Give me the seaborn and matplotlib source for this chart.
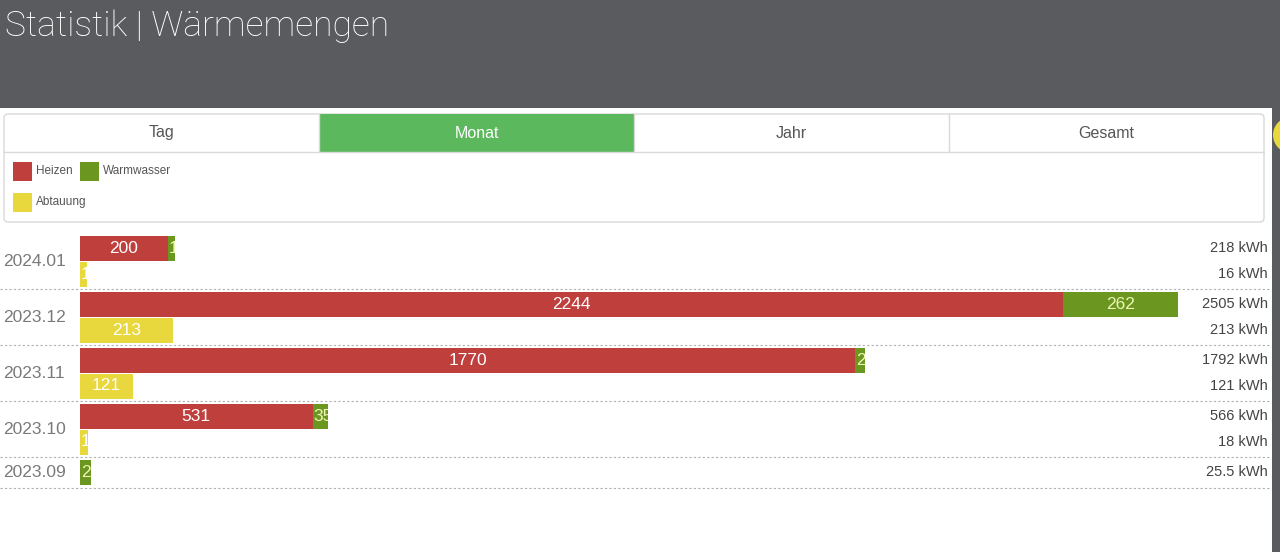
"""Wärmemengen monthly statistics, horizontal stacked bars."""
import matplotlib
matplotlib.use("Agg")
import matplotlib.pyplot as plt
import pandas as pd
import seaborn as sns
from matplotlib.patches import Circle, FancyBboxPatch, Rectangle
from matplotlib.transforms import Bbox, TransformedBbox

# data
months = ["2024.01", "2023.12", "2023.11", "2023.10", "2023.09"]
heizen = [200, 2244, 1770, 531, 0]
warmwasser = [18, 262, 22, 35, 25.5]
abtauung = [16, 213, 121, 18, None]
totals = [218, 2505, 1792, 566, 25.5]
series_names = ["Heizen", "Warmwasser", "Abtauung"]
tabs = ["Tag", "Monat", "Jahr", "Gesamt"]
active_tab = "Monat"
title = "Statistik | Wärmemengen"

RED = "#bf3f3d"
GREEN = "#6b961f"
YELLOW = "#e8d83e"
TAB_GREEN = "#5cb85c"
HEADER = "#5a5b5f"

W, H = 1280, 552
PX_PER_KWH = 0.438
BAR_H = 25
ROW_TOP = 236
SUB_PITCH = 25.5
ROW_GAP = 5.5

sns.set_theme(style="white")
plt.rcParams["font.family"] = ["Liberation Sans", "DejaVu Sans"]

fig = plt.figure(figsize=(W / 100, H / 100), dpi=100)
bg = fig.add_axes([0, 0, 1, 1])
bg.set_xlim(0, W)
bg.set_ylim(H, 0)
bg.axis("off")

# header + page chrome
bg.add_patch(Rectangle((0, 0), W, 108, fc=HEADER, ec="none"))
bg.add_patch(Rectangle((1272, 108), 8, H - 108, fc=HEADER, ec="none"))
bg.add_patch(Circle((1291, 135), 18, fc=YELLOW, ec="none"))
bg.text(5, 36, title, color="white", fontsize=25.5, va="baseline",
        family=["Roboto", "DejaVu Sans"], fontweight="light")

# tab box
bg.add_patch(FancyBboxPatch((4, 114), 1260, 108,
                            boxstyle="round,pad=0,rounding_size=4",
                            fc="none", ec="#d9d9d9", lw=1))
tab_w = 1260 / len(tabs)
for i, name in enumerate(tabs):
    x0 = 4 + i * tab_w
    active = name == active_tab
    if active:
        bg.add_patch(Rectangle((x0, 114), tab_w, 38, fc=TAB_GREEN, ec="none"))
    if i > 0:
        bg.plot([x0, x0], [114, 152], color="#d9d9d9", lw=1)
    bg.text(x0 + tab_w / 2, 133, name, ha="center", va="center", fontsize=11.5,
            color="white" if active else "#555555")
bg.plot([4, 1264], [152, 152], color="#d9d9d9", lw=1)

# legend
legend_pos = [(13, 162), (80, 162), (13, 193)]
for name, col, (lx, ly) in zip(series_names, [RED, GREEN, YELLOW], legend_pos):
    bg.add_patch(Rectangle((lx, ly), 19, 19, fc=col, ec="none"))
    bg.text(lx + 23, ly + 9.5, name, va="center", fontsize=8.5, color="#555555")

# row layout
top_pos, yel_pos, yel_vals, dash_y, row_mid = [], [], [], [], []
top = ROW_TOP
for i in range(len(months)):
    rc = top + BAR_H / 2
    top_pos.append(rc)
    if abtauung[i] is not None:
        yc = rc + SUB_PITCH
        yel_pos.append(yc)
        yel_vals.append(abtauung[i])
        bottom = yc + BAR_H / 2
    else:
        bottom = rc + BAR_H / 2
    row_mid.append((top + bottom) / 2)
    dash_y.append(bottom + ROW_GAP / 2)
    top = bottom + ROW_GAP

top_df = pd.DataFrame({"pos": top_pos, "heizen": heizen,
                       "total": [h + w for h, w in zip(heizen, warmwasser)]})
yel_df = pd.DataFrame({"pos": yel_pos, "abtauung": yel_vals})

ax = fig.add_axes([80 / W, 1 - 500 / H, 1190 / W, 272 / H])
ax.patch.set_alpha(0)
bar_kw = dict(orient="y", native_scale=True, saturation=1, errorbar=None,
              linewidth=0, ax=ax)
sns.barplot(data=top_df, x="total", y="pos", color=GREEN,
            width=BAR_H / (top_pos[1] - top_pos[0]), **bar_kw)
sns.barplot(data=top_df, x="heizen", y="pos", color=RED,
            width=BAR_H / (top_pos[1] - top_pos[0]), **bar_kw)
sns.barplot(data=yel_df, x="abtauung", y="pos", color=YELLOW,
            width=BAR_H / (yel_pos[1] - yel_pos[0]), **bar_kw)
ax.set_xlim(0, 1190 / PX_PER_KWH)
ax.set_ylim(500, 228)
ax.axis("off")

labels = []


def bar_label(left, width, yc, value, color):
    if width <= 0:
        return
    t = ax.text(left + width / 2, yc, f"{value:g}", ha="center", va="center",
                fontsize=12.5, color=color)
    labels.append((t, left, width, yc))


for i in range(len(months)):
    bar_label(0, heizen[i], top_pos[i], heizen[i], "white")
    bar_label(heizen[i], warmwasser[i], top_pos[i], warmwasser[i], "#eef6b6")
for yc, v in zip(yel_pos, yel_vals):
    bar_label(0, v, yc, v, "white")

# dashed separators, row labels, sums
for y in dash_y:
    bg.plot([0, 1270], [y, y], color="#b0b0b0", lw=0.8, ls=(0, (2, 2)))
for m, y in zip(months, row_mid):
    bg.text(3, y, m, va="center", fontsize=12.5, color="#7a7a7a")
for v, y in zip(totals, top_pos):
    bg.text(1268, y, f"{v:g} kWh", ha="right", va="center", fontsize=10.5,
            color="#444444")
for v, y in zip(yel_vals, yel_pos):
    bg.text(1268, y, f"{v:g} kWh", ha="right", va="center", fontsize=10.5,
            color="#444444")

# labels wider than their bar start at the bar's left edge (like css overflow)
# and are cut off at the bar's right edge
fig.canvas.draw()
renderer = fig.canvas.get_renderer()
for t, left, width, yc in labels:
    if t.get_window_extent(renderer).width > width * PX_PER_KWH:
        t.set_x(left + 1 / PX_PER_KWH)
        t.set_ha("left")
    (x0, y0), (x1, y1) = ax.transData.transform(
        [(left, yc - BAR_H / 2), (left + width, yc + BAR_H / 2)])
    box = Bbox.from_extents(x0, min(y0, y1), x1, max(y0, y1))
    t.set_clip_box(box)
    t.set_clip_on(True)

fig.savefig("out.png", dpi=100)
